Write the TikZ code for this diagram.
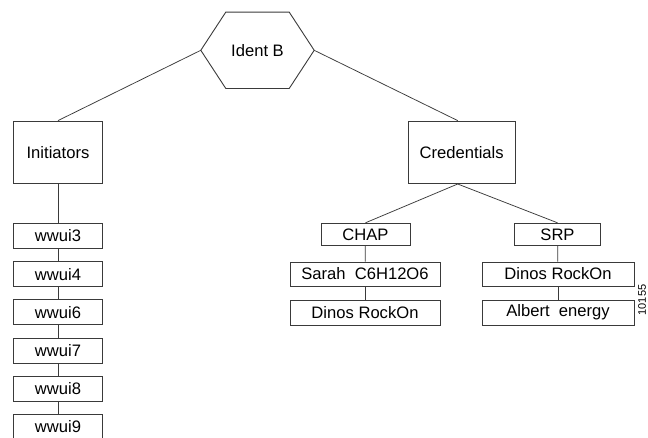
\documentclass[tikz,border=0pt]{standalone}
\usepackage{fontspec}
\setmainfont{Liberation Sans}
\usetikzlibrary{positioning,calc}
\definecolor{edge}{HTML}{3A3A3A}
\tikzset{box/.style={draw=edge,line width=0.9pt,align=center,inner sep=2pt,font=\fontsize{16.6}{19}\selectfont},lbox/.style={box,minimum width=89pt,minimum height=62.5pt},sbox/.style={box,minimum height=24pt},link/.style={draw=edge,line width=0.75pt}}
\begin{document}
\begin{tikzpicture}[x=1pt,y=-1pt]
\useasboundingbox (0,0) rectangle (648,438);
% top node and its hexagon outline
\node[font=\fontsize{16.6}{19}\selectfont,minimum width=113pt,minimum height=76pt,inner sep=0pt] (ident) at (257.5,50.3) {Ident B};
\draw[box] (ident.west)--([xshift=25pt]ident.north west)--([xshift=-25pt]ident.north east)--(ident.east)--([xshift=-25pt]ident.south east)--([xshift=25pt]ident.south west)--cycle;
\node[lbox] (init) at (58,152.3) {Initiators};
\node[lbox,minimum width=107pt] (cred) at (461.7,152.3) {Credentials};
% initiator list
\foreach \name [count=\i from 0] in {wwui3,wwui4,wwui6,wwui7,wwui8,wwui9}
  \node[sbox,minimum width=89.4pt,minimum height=25pt] (\name) at (58,{236+38.2*\i}) {\name};
% credential lists
\node[box,minimum width=89pt,minimum height=22.5pt] (chap) at (365.5,234.5) {CHAP};
\node[box,minimum width=86.4pt,minimum height=22.5pt] (srp) at (557.5,234.5) {SRP};
\node[sbox,minimum width=150pt] (sarah) at (365,274) {Sarah~~C6H12O6};
\node[sbox,minimum width=150pt,minimum height=25pt] (dinosa) at (365,312.5) {Dinos RockOn};
\node[sbox,minimum width=152pt] (dinosb) at (558,274) {Dinos RockOn};
\node[sbox,minimum width=152pt,minimum height=25pt] (albert) at (558,312.5) {Albert~~energy};
\node[rotate=90,font=\fontsize{11}{13}\selectfont,inner sep=0pt] (num) at (642,300) {10155};
\draw[link](ident.west)--(init.north);\draw[link](ident.east)--([xshift=-4pt]cred.north);
\draw[link](init.south)--(wwui3.north);\draw[link](wwui3)--(wwui4);\draw[link](wwui4)--(wwui6);\draw[link](wwui6)--(wwui7);\draw[link](wwui7)--(wwui8);\draw[link](wwui8)--(wwui9);
\draw[link]([xshift=-4pt]cred.south)--(chap.north);\draw[link]([xshift=-4pt]cred.south)--(srp.north);
\draw[link](chap)--(sarah);\draw[link](sarah)--(dinosa);\draw[link](srp)--(dinosb);\draw[link](dinosb)--(albert);
\end{tikzpicture}
\end{document}
